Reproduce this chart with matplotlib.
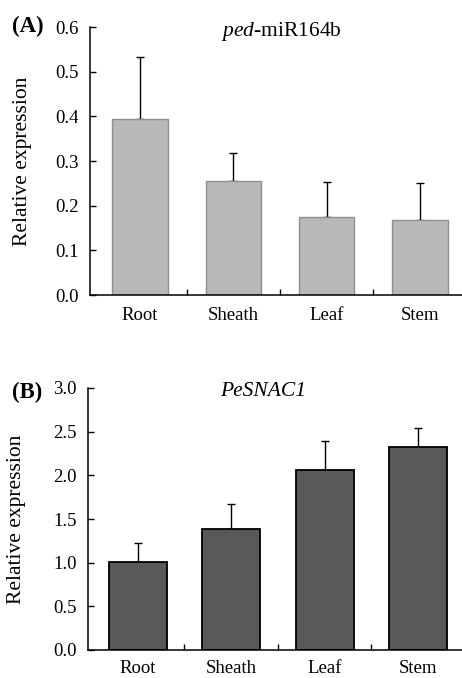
import matplotlib
matplotlib.use("Agg")
import matplotlib.pyplot as plt
import numpy as np

categories = ["Root", "Sheath", "Leaf", "Stem"]
mir_values = [0.395, 0.256, 0.174, 0.168]
mir_errors = [0.138, 0.063, 0.078, 0.082]
snac_values = [1.01, 1.38, 2.06, 2.32]
snac_errors = [0.21, 0.29, 0.33, 0.22]
mir_yticks = [0.0, 0.1, 0.2, 0.3, 0.4, 0.5, 0.6]
snac_yticks = [0.0, 0.5, 1.0, 1.5, 2.0, 2.5, 3.0]

plt.rcParams['font.family'] = ['Liberation Serif', 'DejaVu Serif']
plt.rcParams['mathtext.fontset'] = 'custom'
plt.rcParams['mathtext.rm'] = 'Liberation Serif'
plt.rcParams['mathtext.it'] = 'Liberation Serif:italic'
plt.rcParams['mathtext.bf'] = 'Liberation Serif:bold'

fig = plt.figure(figsize=(4.62, 6.78), dpi=100)
W, H = 462, 678

def make_axes(l, r, t, b):
    return fig.add_axes([l / W, 1 - b / H, (r - l) / W, (b - t) / H])

def style(ax, values, errors, yticks, color, edge, elw, width, xlim, title, title_style,
          label, label_y, title_x, ylab_x, xpad):
    x = np.arange(len(categories))
    ax.bar(x, values, width=width, color=color, edgecolor=edge, linewidth=elw, zorder=2)
    ax.errorbar(x, values, yerr=[np.zeros(len(errors)), errors], fmt='none',
                ecolor='black', elinewidth=1.0, capsize=3, capthick=1.0, zorder=1)
    ax.set_xlim(*xlim)
    ax.set_ylim(yticks[0], yticks[-1])
    ax.set_yticks(yticks)
    ax.set_yticklabels([f"{v:.1f}" for v in yticks])
    ax.set_xticks(x)
    ax.set_xticklabels(categories)
    ax.set_xticks([0.5, 1.5, 2.5], minor=True)
    ax.tick_params(axis='x', which='major', length=0, pad=xpad, labelsize=13.5)
    ax.tick_params(axis='x', which='minor', direction='in', length=4, width=1.0)
    ax.tick_params(axis='y', direction='in', length=4, width=1.0, pad=8, labelsize=13.5)
    for s in ['top', 'right']:
        ax.spines[s].set_visible(False)
    for s in ['left', 'bottom']:
        ax.spines[s].set_linewidth(1.1)
    ax.set_ylabel("Relative expression", fontsize=15.5)
    ax.yaxis.set_label_coords(ylab_x, 0.5)
    ax.text(title_x, 0.985, title, transform=ax.transAxes, ha='center', va='center',
            fontsize=15.5, fontstyle=title_style)
    fig.text(12 / W, 1 - label_y / H, label, fontsize=16.5, fontweight='bold', ha='left', va='center')

ax1 = make_axes(90, 462, 27, 295)
style(ax1, mir_values, mir_errors, mir_yticks, '#b9b9b9', '#8f8f8f', 1.0, 0.59,
      (-0.536, 3.45), r"$\it{ped}$-miR164b", 'normal', "(A)", 26, 0.513, -0.155, 9)

ax2 = make_axes(88, 462, 388, 650)
style(ax2, snac_values, snac_errors, snac_yticks, '#595959', 'black', 1.3, 0.62,
      (-0.53, 3.47), "PeSNAC1", 'italic', "(B)", 392, 0.468, -0.165, 7.5)

fig.savefig("out.png", dpi=100)
